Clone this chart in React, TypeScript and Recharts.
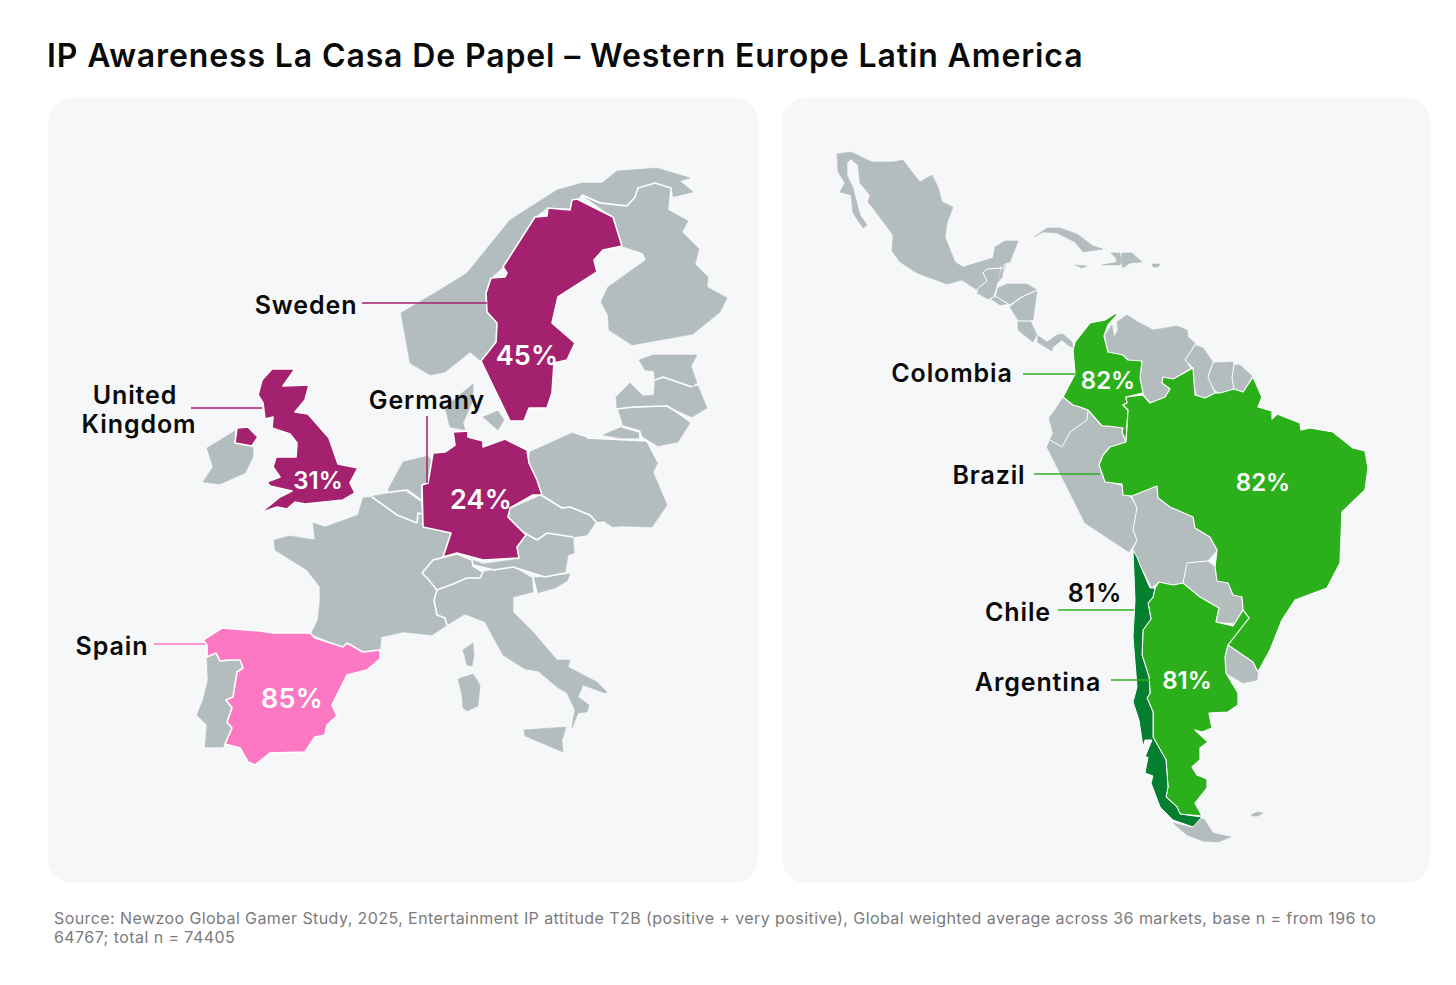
import React from 'react';
import { ScatterChart, Scatter, XAxis, YAxis } from 'recharts';

type Pt = [number, number];

const FONT = 'Inter, "Noto Sans", sans-serif';
const GREY = '#b3bdbd';
const PURPLE = '#a4216f';
const PINK = '#fd78c3';
const GREEN = '#2bb01c';
const DARK_GREEN = '#037f2f';
const PANEL = '#f6f7f9';

// map outlines, in the picture's own units
const norway: Pt[] = [[401,313],[443,288],[467,273],[510,220],[557,190],[582,183],[602,183],[617,171],[657,168],[690,178],[680,181],[693,192],[672,197],[671,188],[655,183],[638,188],[635,197],[627,205],[600,202],[582,194],[570,208],[547,208],[535,217],[503,267],[491,278],[486,293],[487,312],[497,323],[496,342],[481,361],[470,352],[445,372],[430,375],[410,363]];
const finland: Pt[] = [[582,195],[600,203],[627,206],[635,197],[638,188],[655,183],[670,188],[668,210],[688,221],[682,232],[699,249],[695,264],[708,277],[707,287],[727,298],[720,312],[693,334],[632,345],[609,330],[608,315],[601,302],[608,287],[646,260],[643,253],[622,246],[613,217]];
const estonia: Pt[] = [[639,360],[653,355],[697,355],[691,366],[697,383],[692,386],[663,377],[655,380],[654,371],[645,370]];
const latvia: Pt[] = [[617,408],[616,397],[630,383],[643,396],[654,395],[655,380],[663,377],[692,387],[698,386],[707,408],[692,417],[667,406],[633,407]];
const lithuania: Pt[] = [[618,409],[667,406],[690,423],[678,442],[658,446],[643,437],[640,430],[623,425],[621,418]];
const kaliningrad: Pt[] = [[603,435],[622,427],[640,432],[640,438],[620,438]];
const jutland: Pt[] = [[473,384],[445,407],[450,427],[465,430],[463,423],[473,400]];
const zealand: Pt[] = [[483,417],[498,411],[504,420],[498,430]];
const poland: Pt[] = [[530,452],[572,433],[587,438],[647,441],[658,462],[653,472],[667,505],[652,527],[620,526],[613,527],[605,522],[597,523],[590,515],[570,507],[562,508],[543,496],[537,480],[529,463]];
const czechia: Pt[] = [[508,510],[540,496],[563,509],[570,507],[597,520],[587,535],[573,537],[547,533],[537,540],[523,532],[508,517]];
const austria: Pt[] = [[472,560],[483,564],[519,559],[517,547],[526,535],[537,540],[547,533],[573,537],[574,553],[568,555],[565,573],[545,577],[513,567],[494,570],[473,565]];
const slovenia: Pt[] = [[533,578],[570,574],[567,581],[555,588],[537,593]];
const switzerland: Pt[] = [[422,573],[433,560],[457,554],[472,560],[473,566],[483,572],[480,578],[467,578],[453,584],[437,590],[427,578]];
const italy: Pt[] = [[437,590],[453,584],[467,578],[483,572],[494,570],[513,567],[532,578],[533,592],[513,597],[513,612],[533,632],[557,660],[570,660],[568,667],[597,682],[607,692],[605,693],[583,685],[578,697],[589,705],[587,712],[578,713],[572,728],[573,720],[575,710],[567,693],[557,687],[538,671],[525,669],[503,655],[485,622],[465,614],[447,625],[445,618],[437,615],[433,605]];
const corsica: Pt[] = [[473,643],[463,650],[467,665],[472,666],[474,655]];
const sardinia: Pt[] = [[458,679],[473,674],[480,685],[478,706],[467,711],[463,708],[462,695]];
const sicily: Pt[] = [[524,730],[566,727],[562,740],[563,752],[525,736]];
const france: Pt[] = [[274,540],[290,536],[315,540],[313,523],[325,527],[358,515],[363,498],[372,497],[397,515],[417,523],[451,533],[443,555],[422,573],[427,578],[437,590],[434,600],[437,615],[445,618],[447,625],[432,635],[403,632],[381,637],[380,650],[363,652],[347,643],[343,647],[311,634],[318,620],[320,600],[320,587],[307,570],[275,550]];
const portugal: Pt[] = [[207,658],[216,653],[220,662],[240,660],[243,668],[237,672],[233,697],[226,700],[232,708],[227,722],[232,728],[223,747],[205,747],[207,725],[197,715],[203,700],[208,680]];
const ireland: Pt[] = [[235,431],[234,443],[253,447],[253,457],[245,473],[220,484],[203,482],[213,467],[207,448]];
const netherlands: Pt[] = [[388,490],[403,462],[428,456],[433,463],[427,483],[421,485],[421,500],[407,490],[390,492]];
const belgium: Pt[] = [[373,496],[405,491],[421,502],[422,517],[417,515],[417,523],[397,515],[373,502]];
const luxembourg: Pt[] = [[418,513],[422,514],[423,524],[417,523]];

const sweden: Pt[] = [[572,200],[577,199],[613,217],[622,246],[603,250],[594,260],[597,272],[558,297],[552,323],[575,343],[567,360],[554,363],[552,393],[547,408],[529,408],[524,421],[510,421],[481,361],[496,342],[497,323],[487,312],[486,293],[491,278],[505,277],[507,273],[503,267],[535,217],[547,216],[548,208],[570,210]];
const germany: Pt[] = [[453,432],[468,431],[468,437],[483,441],[483,447],[505,439],[527,450],[529,463],[537,480],[542,495],[533,495],[510,508],[508,517],[526,535],[517,547],[519,558],[483,560],[457,553],[443,557],[451,533],[423,527],[422,485],[428,483],[433,453],[445,452],[455,445]];
const britain: Pt[] = [[272,369],[295,369],[283,386],[309,385],[305,400],[295,412],[308,414],[329,438],[338,464],[358,468],[350,483],[355,493],[343,500],[305,504],[295,502],[287,509],[277,507],[260,513],[280,497],[292,491],[270,486],[267,482],[280,477],[273,467],[276,457],[296,457],[297,443],[290,434],[272,428],[273,417],[265,419],[263,403],[258,395],[262,380]];
const northernIreland: Pt[] = [[237,428],[248,427],[258,437],[252,446],[235,443]];
const spain: Pt[] = [[203,640],[222,628],[260,631],[273,633],[310,633],[315,638],[343,647],[347,643],[363,652],[380,650],[380,659],[367,670],[347,675],[332,705],[337,716],[327,725],[325,735],[315,737],[305,752],[270,753],[255,765],[248,762],[240,748],[225,744],[232,728],[227,722],[232,708],[226,700],[233,697],[237,672],[243,668],[240,660],[228,660],[220,661],[216,653],[207,657],[207,645]];

const mexico: Pt[] = [[837,154],[851,152],[872,162],[893,162],[903,160],[912,172],[920,182],[932,175],[938,187],[942,202],[953,207],[947,223],[945,237],[955,262],[963,267],[993,258],[995,247],[1005,241],[1018,241],[1010,262],[1005,263],[999,268],[987,269],[983,273],[987,281],[977,290],[962,280],[947,284],[917,273],[900,262],[892,251],[893,235],[873,208],[868,202],[870,195],[860,183],[858,165],[851,159],[847,163],[847,175],[853,188],[860,215],[867,225],[863,228],[853,213],[851,195],[840,192],[845,183],[838,172]];
const guatemala: Pt[] = [[983,273],[987,269],[1000,268],[998,283],[993,297],[988,299],[977,293],[977,289],[987,281]];
const belize: Pt[] = [[1002,266],[1006,263],[1003,277],[998,283]];
const honduras: Pt[] = [[998,288],[1007,284],[1027,284],[1037,290],[1020,297],[1010,305],[1003,300],[995,297]];
const nicaragua: Pt[] = [[1010,307],[1022,297],[1037,291],[1033,320],[1027,322],[1018,320]];
const elSalvador: Pt[] = [[991,299],[996,296],[1005,302],[1007,304],[1000,305]];
const costaRica: Pt[] = [[1018,321],[1030,320],[1037,335],[1033,342],[1018,330]];
const panama: Pt[] = [[1037,335],[1047,342],[1057,335],[1063,334],[1072,342],[1073,348],[1068,345],[1062,340],[1053,347],[1052,351],[1037,342]];
const cuba: Pt[] = [[1034,237],[1047,228],[1060,228],[1077,234],[1093,246],[1103,249],[1083,252],[1075,242],[1057,233],[1043,232]];
const haiti: Pt[] = [[1111,253],[1120,253],[1121,262],[1120,265],[1102,265],[1117,262],[1116,258]];
const dominicanRep: Pt[] = [[1122,253],[1132,253],[1142,262],[1130,263],[1123,268],[1121,262]];
const jamaica: Pt[] = [[1075,265],[1087,266],[1082,268]];
const puertoRico: Pt[] = [[1152,264],[1160,264],[1158,267],[1153,267]];
const venezuela: Pt[] = [[1105,335],[1112,325],[1114,337],[1118,330],[1117,322],[1127,315],[1138,322],[1153,330],[1177,326],[1187,330],[1188,337],[1195,343],[1185,360],[1190,368],[1173,379],[1163,377],[1162,383],[1170,389],[1165,397],[1150,403],[1143,393],[1140,378],[1142,361],[1128,360],[1123,355],[1108,352]];
const guyana: Pt[] = [[1195,345],[1203,348],[1213,362],[1208,375],[1215,393],[1205,398],[1197,395],[1194,383],[1193,368],[1185,360]];
const suriname: Pt[] = [[1213,363],[1233,362],[1232,378],[1234,389],[1220,393],[1215,390],[1208,377]];
const frenchGuiana: Pt[] = [[1233,365],[1240,365],[1252,376],[1243,392],[1234,389],[1232,378]];
const ecuador: Pt[] = [[1063,398],[1073,405],[1088,411],[1087,420],[1070,432],[1062,447],[1050,440],[1053,433],[1049,418],[1055,410]];
const peru: Pt[] = [[1088,411],[1102,426],[1123,428],[1122,432],[1126,442],[1110,447],[1103,455],[1099,465],[1105,482],[1122,486],[1123,495],[1130,497],[1137,508],[1133,530],[1137,540],[1129,552],[1085,523],[1067,487],[1047,447],[1050,440],[1062,447],[1070,432],[1087,420]];
const bolivia: Pt[] = [[1132,496],[1157,486],[1158,498],[1170,507],[1193,517],[1195,528],[1210,537],[1217,550],[1207,561],[1187,563],[1183,583],[1173,585],[1158,582],[1152,587],[1133,550],[1137,540],[1133,530],[1137,508]];
const paraguay: Pt[] = [[1187,563],[1207,561],[1215,567],[1217,581],[1228,583],[1233,595],[1242,597],[1243,610],[1238,623],[1217,622],[1219,608],[1200,597],[1183,583]];
const uruguay: Pt[] = [[1228,645],[1253,662],[1258,672],[1257,680],[1243,683],[1226,673],[1225,657]];
const tierraDelFuego: Pt[] = [[1173,823],[1193,828],[1198,819],[1204,819],[1213,833],[1231,837],[1218,842],[1203,841],[1187,835]];
const falklands: Pt[] = [[1251,815],[1257,812],[1263,813],[1258,816],[1253,816]];

const colombia: Pt[] = [[1116,313],[1117,315],[1108,325],[1104,336],[1108,352],[1123,355],[1128,360],[1142,361],[1140,378],[1143,393],[1126,397],[1127,403],[1123,405],[1128,410],[1126,442],[1122,432],[1123,428],[1108,426],[1102,426],[1088,410],[1080,407],[1073,405],[1063,397],[1075,374],[1073,350],[1075,342],[1090,323],[1105,320]];
const brazil: Pt[] = [[1253,377],[1262,397],[1258,407],[1272,411],[1272,419],[1277,414],[1300,423],[1301,430],[1310,428],[1333,432],[1353,448],[1365,451],[1368,468],[1365,490],[1342,512],[1340,563],[1327,588],[1295,600],[1282,620],[1270,650],[1258,672],[1253,662],[1228,645],[1230,637],[1249,618],[1243,610],[1242,597],[1233,595],[1228,583],[1217,581],[1215,567],[1217,550],[1210,537],[1195,528],[1193,517],[1170,507],[1158,498],[1157,486],[1132,496],[1123,495],[1122,484],[1105,482],[1099,465],[1103,455],[1110,447],[1126,442],[1128,410],[1123,405],[1127,403],[1126,397],[1143,395],[1150,403],[1165,397],[1170,389],[1162,383],[1163,377],[1173,379],[1193,368],[1195,395],[1205,398],[1215,393],[1220,393],[1234,389],[1243,392]];
const chile: Pt[] = [[1133,550],[1137,557],[1140,565],[1150,588],[1155,588],[1153,597],[1148,603],[1151,619],[1143,630],[1142,655],[1149,677],[1150,693],[1147,698],[1153,712],[1153,737],[1166,760],[1168,787],[1166,797],[1177,807],[1180,814],[1202,817],[1193,827],[1173,820],[1160,807],[1151,783],[1153,776],[1145,773],[1148,757],[1145,757],[1152,740],[1145,740],[1143,747],[1139,720],[1133,702],[1137,687],[1133,637],[1135,600]];
const argentina: Pt[] = [[1159,582],[1173,585],[1183,583],[1200,597],[1219,608],[1216,622],[1233,626],[1243,610],[1249,618],[1228,645],[1225,657],[1226,673],[1238,693],[1238,705],[1228,712],[1209,713],[1212,728],[1202,732],[1195,730],[1208,742],[1200,748],[1200,760],[1192,767],[1197,775],[1207,779],[1207,788],[1195,803],[1202,816],[1180,814],[1177,807],[1166,797],[1168,787],[1166,760],[1153,737],[1153,712],[1147,698],[1150,693],[1149,677],[1142,655],[1143,630],[1151,619],[1148,603],[1153,597],[1155,588]];

const greyShapes = [norway, finland, estonia, latvia, lithuania, kaliningrad, jutland, zealand, poland, czechia, austria, slovenia, switzerland, italy, corsica, sardinia, sicily, france, portugal, ireland, netherlands, belgium, luxembourg, mexico, guatemala, belize, honduras, nicaragua, elSalvador, costaRica, panama, cuba, haiti, dominicanRep, jamaica, puertoRico, venezuela, guyana, suriname, frenchGuiana, ecuador, peru, bolivia, paraguay, uruguay, tierraDelFuego, falklands];
const purpleShapes = [sweden, germany, britain, northernIreland];
const greenShapes = [colombia, brazil, argentina];

// white borders between grey countries
const europeBorders: Pt[][] = [
  [[582,195],[600,203],[627,206],[635,197],[638,188],[655,183],[671,188],[672,197]],
  [[655,380],[663,377],[692,387]],
  [[617,409],[633,407],[667,406],[685,417]],
  [[622,427],[640,432],[640,438],[647,441]],
  [[587,438],[647,441],[658,462]],
  [[543,496],[562,508],[570,507],[590,515],[597,523],[605,522]],
  [[523,532],[537,540],[547,533],[573,537]],
  [[473,565],[494,570],[513,567],[545,577],[565,573]],
  [[533,578],[537,593]],
  [[422,573],[433,560],[457,554],[472,560],[473,566],[483,572],[480,578],[467,578],[453,584],[437,590],[427,578],[422,573]],
  [[437,590],[434,600],[437,615],[445,618],[447,625]],
  [[390,492],[407,490],[421,500]],
  [[372,497],[397,515],[417,523]],
  [[417,523],[418,513],[422,514]],
];
const americaBorders: Pt[][] = [
  [[1005,264],[1003,277],[998,283],[995,296],[990,299]],
  [[987,269],[983,273],[987,281],[977,289],[977,293]],
  [[987,269],[1003,268]],
  [[995,296],[1005,302],[1010,305],[1022,297],[1037,290]],
  [[1018,321],[1033,321]],
  [[1037,335],[1037,342]],
  [[1195,345],[1185,360],[1193,368]],
  [[1213,362],[1208,377],[1215,393]],
  [[1234,365],[1232,378],[1234,389]],
  [[1088,411],[1087,420],[1070,432],[1062,447],[1050,440]],
  [[1132,497],[1137,508],[1133,530],[1137,540],[1131,552]],
  [[1215,561],[1207,561],[1187,563],[1183,583]],
];

// callouts
const purpleLeaders: Pt[][] = [[[362,303],[487,303]], [[191,408],[262,408]], [[427,416],[427,483]]];
const pinkLeaders: Pt[][] = [[[154,644],[205,644]]];
const greenLeaders: Pt[][] = [[[1023,374],[1075,374]], [[1034,474],[1100,474]], [[1058,610],[1134,610]], [[1111,680],[1151,680]]];

const countryNames = ['Sweden', 'United', 'Kingdom', 'Germany', 'Spain', 'Colombia', 'Brazil', 'Chile', 'Argentina', '81%'];
const countryAnchors: Pt[] = [[306,305],[135,395],[139,424],[427,400],[112,646],[952,373],[989,475],[1018,612],[1038,682],[1095,593]];
const bigShares = ['45%', '24%', '85%'];
const bigShareAnchors: Pt[] = [[527,355],[481,499],[292,698]];
const midShares = ['82%', '82%'];
const midShareAnchors: Pt[] = [[1108,380],[1263,482]];
const smallShares = ['31%', '81%'];
const smallShareAnchors: Pt[] = [[318,480],[1187,680]];

const toPoints = (pts: Pt[]) => pts.map(([x, y]) => ({ x, y }));
const pointList = (props: any) => props.points.map((p: any) => `${p.x},${p.y}`).join(' ');

const polygonOutline = (fill: string, stroke: string, width: number) => (props: any) => (
  <polygon points={pointList(props)} fill={fill} stroke={stroke} strokeWidth={width} strokeLinejoin="round" />
);

const pathLine = (stroke: string, width: number) => (props: any) => (
  <polyline points={pointList(props)} fill="none" stroke={stroke} strokeWidth={width} strokeLinejoin="round" />
);

const noDot = () => null;

const labelShape = (texts: string[], fill: string, size: number, weight: number, spacing: number) => (props: any) => (
  <text
    x={props.cx}
    y={props.cy}
    textAnchor="middle"
    dominantBaseline="central"
    fill={fill}
    fontFamily={FONT}
    fontSize={size}
    fontWeight={weight}
    letterSpacing={spacing}
  >
    {texts[props.index]}
  </text>
);

const App: React.FC = () => {
  return (
    <div style={{ position: 'absolute', left: 0, top: 0, width: 1456, height: 985, background: '#fff', fontFamily: FONT }}>
      <div style={{ position: 'absolute', left: 47, top: 36, fontSize: 32, fontWeight: 600, letterSpacing: 0.87, color: '#0a0a0a', whiteSpace: 'nowrap', lineHeight: '40px' }}>
        IP Awareness La Casa De Papel – Western Europe Latin America
      </div>
      <div style={{ position: 'absolute', left: 48, top: 98, width: 710, height: 785, borderRadius: 24, background: PANEL }} />
      <div style={{ position: 'absolute', left: 782, top: 98, width: 648, height: 785, borderRadius: 24, background: PANEL }} />
      <div style={{ position: 'absolute', left: 54, top: 909, width: 1360, fontSize: 16, letterSpacing: 0.42, lineHeight: '19px', color: '#7b7b7b', whiteSpace: 'nowrap' }}>
        Source: Newzoo Global Gamer Study, 2025, Entertainment IP attitude T2B (positive + very positive), Global weighted average across 36 markets, base n = from 196 to
        <br />
        64767; total n = 74405
      </div>
      <div style={{ position: 'absolute', left: 0, top: 0 }}>
        <ScatterChart width={1456} height={985} margin={{ top: 0, right: 0, bottom: 0, left: 0 }}>
          <XAxis type="number" dataKey="x" domain={[0, 1456]} hide />
          <YAxis type="number" dataKey="y" domain={[0, 985]} reversed hide />
          {greyShapes.map((s, i) => (
            <Scatter key={`g${i}`} data={toPoints(s)} line={polygonOutline(GREY, GREY, 0.6)} shape={noDot} isAnimationActive={false} />
          ))}
          {europeBorders.map((s, i) => (
            <Scatter key={`be${i}`} data={toPoints(s)} line={pathLine('#fff', 1.6)} shape={noDot} isAnimationActive={false} />
          ))}
          {americaBorders.map((s, i) => (
            <Scatter key={`ba${i}`} data={toPoints(s)} line={pathLine('#fff', 1)} shape={noDot} isAnimationActive={false} />
          ))}
          {purpleShapes.map((s, i) => (
            <Scatter key={`p${i}`} data={toPoints(s)} line={polygonOutline(PURPLE, '#fff', 1.6)} shape={noDot} isAnimationActive={false} />
          ))}
          <Scatter data={toPoints(spain)} line={polygonOutline(PINK, '#fff', 1.6)} shape={noDot} isAnimationActive={false} />
          {greenShapes.map((s, i) => (
            <Scatter key={`v${i}`} data={toPoints(s)} line={polygonOutline(GREEN, '#fff', 1.2)} shape={noDot} isAnimationActive={false} />
          ))}
          <Scatter data={toPoints(chile)} line={polygonOutline(DARK_GREEN, '#fff', 1)} shape={noDot} isAnimationActive={false} />
          {purpleLeaders.map((s, i) => (
            <Scatter key={`lp${i}`} data={toPoints(s)} line={pathLine(PURPLE, 1.5)} shape={noDot} isAnimationActive={false} />
          ))}
          {pinkLeaders.map((s, i) => (
            <Scatter key={`lk${i}`} data={toPoints(s)} line={pathLine(PINK, 1.5)} shape={noDot} isAnimationActive={false} />
          ))}
          {greenLeaders.map((s, i) => (
            <Scatter key={`lg${i}`} data={toPoints(s)} line={pathLine(GREEN, 1.5)} shape={noDot} isAnimationActive={false} />
          ))}
          <Scatter data={toPoints(countryAnchors)} shape={labelShape(countryNames, '#0a0a0a', 25, 600, 0.9)} isAnimationActive={false} />
          <Scatter data={toPoints(bigShareAnchors)} shape={labelShape(bigShares, '#fff', 27, 600, 0.2)} isAnimationActive={false} />
          <Scatter data={toPoints(midShareAnchors)} shape={labelShape(midShares, '#fff', 24, 600, 0)} isAnimationActive={false} />
          <Scatter data={toPoints(smallShareAnchors)} shape={labelShape(smallShares, '#fff', 24, 600, 0)} isAnimationActive={false} />
        </ScatterChart>
      </div>
    </div>
  );
};

export default App;
